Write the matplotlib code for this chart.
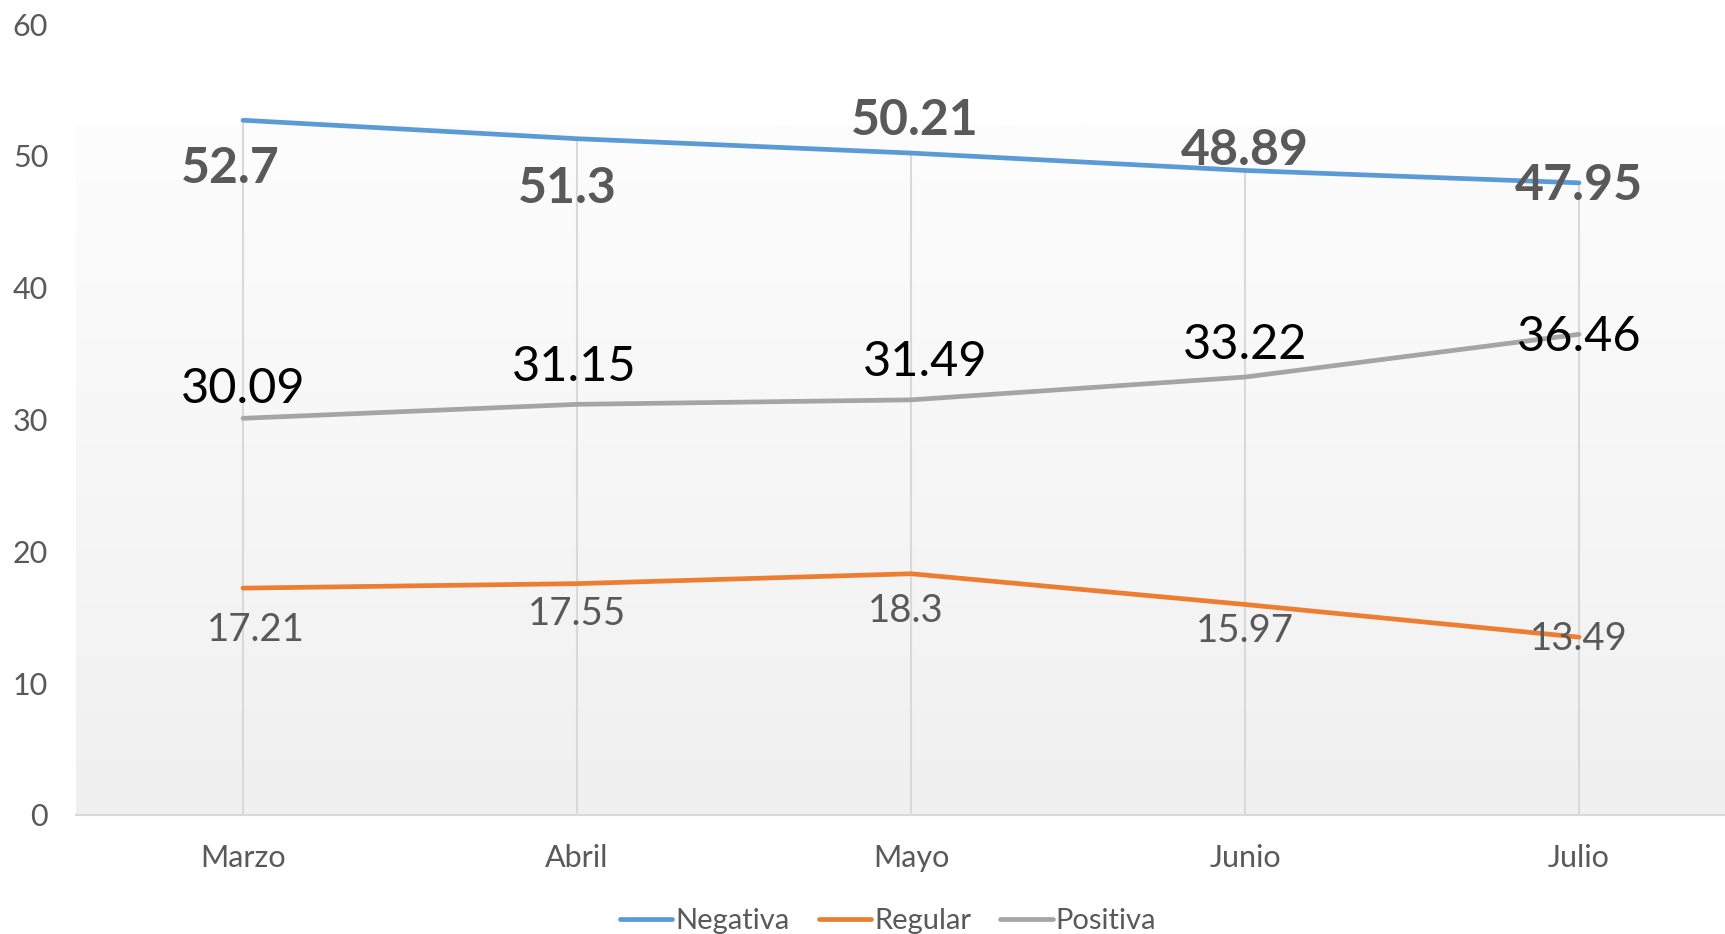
import numpy as np
import matplotlib

matplotlib.use("Agg")
import matplotlib.pyplot as plt
from matplotlib.colors import LinearSegmentedColormap

plt.rcParams["font.family"] = ["Lato", "DejaVu Sans"]

MONTHS = ["Marzo", "Abril", "Mayo", "Junio", "Julio"]
NEGATIVA = [52.7, 51.3, 50.21, 48.89, 47.95]
REGULAR = [17.21, 17.55, 18.3, 15.97, 13.49]
POSITIVA = [30.09, 31.15, 31.49, 33.22, 36.46]
YTICKS = [0, 10, 20, 30, 40, 50, 60]

TXT = "#595959"
GRID = "#d9d9d9"

# label offsets (pixels from the point), hand-placed like the original
OFF_NEG = [(-13, -48), (-10, -50), (4, 33), (0, 20), (0, -3)]
OFF_REG = [(13, -42), (0, -30), (-5, -37), (0, -27), (0, -2)]
OFF_POS = [(0, 29), (-3, 37), (14, 38), (0, 32), (0, -3)]

fig = plt.figure(figsize=(17.25, 9.34), dpi=100)
ax = fig.add_axes([76 / 1725, 119 / 934, 1 - 76 / 1725, 791 / 934])
x = np.arange(len(MONTHS))
ax.set_xlim(-0.5, (1725 - 243) / 334)
ax.set_ylim(0, 60)

# soft gradient panel behind the data
grad = np.linspace(0, 1, 256).reshape(-1, 1)
cmap = LinearSegmentedColormap.from_list("bg", ["#f0f0f0", "#fdfdfd"])
ax.imshow(grad, cmap=cmap, aspect="auto", origin="lower",
          extent=[ax.get_xlim()[0], ax.get_xlim()[1], 0, 52.3], zorder=0)

# drop lines from the highest series down to the axis
tops = [max(v) for v in zip(NEGATIVA, REGULAR, POSITIVA)]
ax.vlines(x, 0, tops, color=GRID, linewidth=1.5, zorder=1)

series = [("Negativa", NEGATIVA, "#5b9bd5"),
          ("Regular", REGULAR, "#ed7d31"),
          ("Positiva", POSITIVA, "#a5a5a5")]
for name, vals, color in series:
    ax.plot(x, vals, color=color, linewidth=3.4, label=name,
            solid_capstyle="round", zorder=3)

for xi, v, off in zip(x, NEGATIVA, OFF_NEG):
    ax.annotate(f"{v:g}", (xi, v), xytext=off, textcoords="offset pixels",
                ha="center", va="center", fontsize=36, fontweight="bold",
                color=TXT, zorder=4)
for xi, v, off in zip(x, REGULAR, OFF_REG):
    ax.annotate(f"{v:g}", (xi, v), xytext=off, textcoords="offset pixels",
                ha="center", va="center", fontsize=27.5, color=TXT, zorder=4)
for xi, v, off in zip(x, POSITIVA, OFF_POS):
    ax.annotate(f"{v:g}", (xi, v), xytext=off, textcoords="offset pixels",
                ha="center", va="center", fontsize=35, color="black", zorder=4)

ax.set_xticks(x)
ax.set_xticklabels(MONTHS)
ax.set_yticks(YTICKS)
ax.tick_params(axis="x", length=0, pad=21, labelsize=22, labelcolor=TXT)
ax.tick_params(axis="y", length=0, pad=20, labelsize=22, labelcolor=TXT)
for side in ["top", "right", "left"]:
    ax.spines[side].set_visible(False)
ax.spines["bottom"].set_color(GRID)
ax.spines["bottom"].set_linewidth(1.5)
ax.spines["bottom"].set_zorder(2)

fig.legend(loc="center", bbox_to_anchor=(888 / 1725, 1 - 921 / 934), ncol=3,
           frameon=False, fontsize=21, labelcolor=TXT, handlelength=1.8,
           handletextpad=0.1, columnspacing=1.0)

fig.savefig("out.png", dpi=100)
